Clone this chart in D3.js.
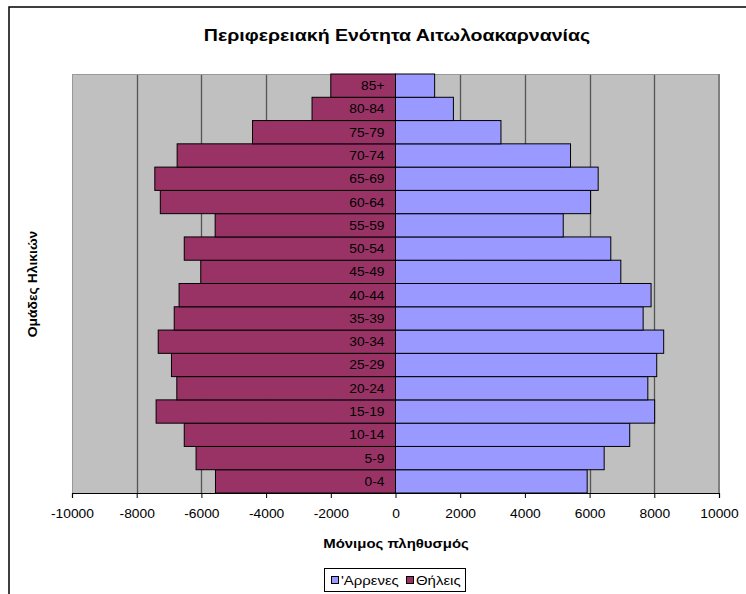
<!DOCTYPE html>
<html><head><meta charset="utf-8">
<script src="https://cdn.jsdelivr.net/npm/d3@7"></script>
<style>body{margin:0;background:#fff}svg{display:block;font-family:Arial,"Liberation Sans",sans-serif}</style>
</head><body><svg id="c" width="746" height="594"></svg>
<script>
const title = "Περιφερειακή Ενότητα Αιτωλοακαρνανίας";
const xTitle = "Μόνιμος πληθυσμός";
const yTitle = "Ομάδες Ηλικιών";
const ageGroups = ["0-4","5-9","10-14","15-19","20-24","25-29","30-34","35-39","40-44","45-49","50-54","55-59","60-64","65-69","70-74","75-79","80-84","85+"];
const males   = [5925,6450,7240,8010,7800,8075,8290,7655,7900,6965,6655,5185,6030,6265,5410,3260,1790,1210];
const females = [-5565,-6165,-6530,-7400,-6760,-6925,-7335,-6840,-6690,-6020,-6530,-5575,-7270,-7440,-6750,-4420,-2580,-2000];
const xTicks = [-10000,-8000,-6000,-4000,-2000,0,2000,4000,6000,8000,10000];
const legendNames = ["'Αρρενες","Θήλεις"];
const colors = {male:"#9999FF", female:"#993366"};

const SX = 1.15;
const svg = d3.select("#c");
function txt(parent, x, y, s, o={}){
  const g = parent.append("g").attr("transform",`translate(${x},${y})${o.rot?` rotate(${o.rot})`:""} scale(${o.sx||SX},1)`);
  g.append("text").attr("text-anchor",o.anchor||"start").attr("font-size",o.size||12)
    .attr("font-weight",o.weight||"normal").attr("fill","#000").text(s);
  return g;
}
// outer frame
svg.append("rect").attr("x",9).attr("y",7).attr("width",760).attr("height",620)
  .attr("fill","#fff").attr("stroke","#000").attr("stroke-width",1.5);

const L=72, R=719, T=74, B=493;
const x = d3.scaleLinear().domain([-10000,10000]).range([L,R]);
const y = d3.scaleBand().domain(ageGroups.slice().reverse()).range([T,B]).padding(0);

svg.append("rect").attr("x",L).attr("y",T).attr("width",R-L).attr("height",B-T).attr("fill","#C0C0C0");
svg.append("g").selectAll("line").data(xTicks.slice(1,-1)).join("line")
  .attr("x1",d=>Math.round(x(d))+0.5).attr("x2",d=>Math.round(x(d))+0.5)
  .attr("y1",T).attr("y2",B).attr("stroke","#555").attr("stroke-width",1.3);
// plot border
svg.append("line").attr("x1",L).attr("x2",R).attr("y1",T+0.5).attr("y2",T+0.5).attr("stroke","#999").attr("stroke-width",1);
svg.append("line").attr("x1",R).attr("x2",R).attr("y1",T).attr("y2",B).attr("stroke","#808080").attr("stroke-width",2);
svg.append("line").attr("x1",L+0.5).attr("x2",L+0.5).attr("y1",T).attr("y2",B).attr("stroke","#999").attr("stroke-width",1);

const bars = svg.append("g");
bars.selectAll("rect.f").data(ageGroups).join("rect").attr("class","f")
  .attr("x",(d,i)=>x(females[i])).attr("y",d=>y(d))
  .attr("width",(d,i)=>x(0)-x(females[i])).attr("height",y.bandwidth())
  .attr("fill",colors.female).attr("stroke","#000").attr("stroke-width",1);
bars.selectAll("rect.m").data(ageGroups).join("rect").attr("class","m")
  .attr("x",x(0)).attr("y",d=>y(d))
  .attr("width",(d,i)=>x(males[i])-x(0)).attr("height",y.bandwidth())
  .attr("fill",colors.male).attr("stroke","#000").attr("stroke-width",1);

const lab = svg.append("g");
ageGroups.forEach(d=>txt(lab, x(0)-11, y(d)+y.bandwidth()/2+4.5, d, {anchor:"end"}));

const ax = svg.append("g").attr("transform",`translate(0,${B})`)
  .call(d3.axisBottom(x).tickValues(xTicks).tickSize(5).tickPadding(11).tickFormat(d=>String(d)));
ax.select(".domain").attr("stroke","#000").attr("stroke-width",1.2);
ax.selectAll(".tick line").attr("stroke","#000");
ax.selectAll("text").attr("font-size",12).attr("font-family","Arial,'Liberation Sans',sans-serif")
  .attr("fill","#000").attr("transform",`scale(${SX},1)`);

txt(svg, 397, 41, title, {anchor:"middle", size:17, weight:"bold"});
txt(svg, 396, 548, xTitle, {anchor:"middle", size:13, weight:"bold"});
txt(svg, 37, 284, yTitle, {anchor:"middle", size:13, weight:"bold", rot:-90, sx:1.07});

// legend
const lg = svg.append("g");
lg.append("rect").attr("x",324.5).attr("y",568.5).attr("width",141).attr("height",23)
  .attr("fill","#fff").attr("stroke","#000").attr("stroke-width",1);
const items = [{n:legendNames[0],c:colors.male,x:331},{n:legendNames[1],c:colors.female,x:406}];
items.forEach(it=>{
  lg.append("rect").attr("x",it.x+0.5).attr("y",576.5).attr("width",7).attr("height",7)
    .attr("fill",it.c).attr("stroke","#000").attr("stroke-width",1);
  txt(lg, it.x+10, 585, it.n, {size:13});
});
</script></body></html>
